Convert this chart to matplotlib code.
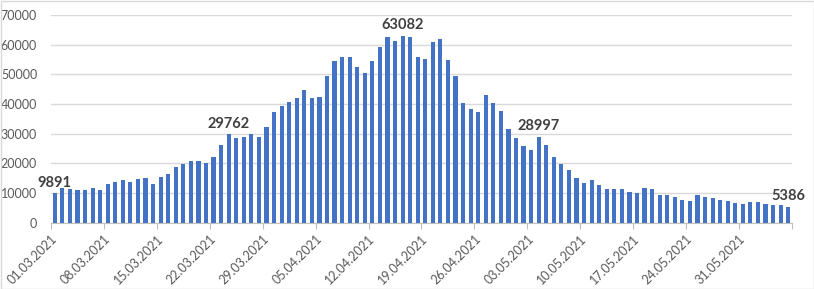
import numpy as np
import matplotlib.pyplot as plt
from matplotlib.patches import Rectangle
import datetime as dt

# daily values 01.03.2021 .. 06.06.2021
values = [9891, 11700, 11350, 11000, 11000, 11700, 11000,
          13000, 13700, 14400, 13700, 14700, 15050, 13000,
          15400, 16400, 18760, 19800, 20800, 20800, 20100,
          22100, 26200, 29762, 28500, 28900, 29900, 28900,
          32250, 37300, 39300, 40700, 42000, 44700, 42000,
          42360, 49400, 54500, 55800, 55800, 52500, 50450,
          54500, 59200, 62600, 61200, 63082, 62600, 55800,
          55200, 60900, 61900, 54800, 49400, 40300, 38300,
          37300, 43000, 40300, 37600, 31600, 28500, 25800,
          24500, 28997, 26200, 22100, 19800, 17750, 15050,
          13370, 14400, 12700, 11350, 11350, 11350, 10340,
          10000, 11700, 11350, 9330, 9330, 8650, 7640,
          7300, 9330, 8650, 8300, 7640, 7300, 6630,
          6300, 6970, 6970, 6300, 5960, 5960, 5386]
start = dt.date(2021, 3, 1)
dates = [start + dt.timedelta(days=i) for i in range(len(values))]
labelled = [0, 23, 46, 64, 97]

fig = plt.figure(figsize=(8.14, 2.89), dpi=100)
plt.rcParams['font.family'] = ['Lato', 'DejaVu Sans']
ax = fig.add_axes([51/814, 66.3/289, (792-51)/814, (222.7-15)/289])

x = np.arange(len(values))
ax.bar(x, values, width=0.55, color='#4472C4', zorder=3)

ax.set_xlim(-0.5, len(values) - 0.5)
ax.set_ylim(0, 70000)
ax.set_yticks(np.arange(0, 70001, 10000))
ax.set_yticklabels([str(v) for v in range(0, 70001, 10000)], fontsize=9, color='#595959')
ax.yaxis.grid(True, color='#d9d9d9', linewidth=1, zorder=0)
ax.tick_params(axis='y', length=0, pad=10)

tick_pos = np.arange(-0.5, len(values), 7)
ax.set_xticks(tick_pos)
tick_labels = [dates[int(p + 0.5)].strftime('%d.%m.%Y') if p + 0.5 < len(values) else '' for p in tick_pos]
ax.set_xticklabels(tick_labels, rotation=45, ha='right', rotation_mode='anchor',
                   fontsize=9, color='#595959')
ax.tick_params(axis='x', length=4, color='#bfbfbf', pad=3)

for s in ['top', 'right', 'left']:
    ax.spines[s].set_visible(False)
ax.spines['bottom'].set_color('#bfbfbf')

for i in labelled:
    ax.text(x[i], values[i] + 1200, str(values[i]), ha='center', va='bottom',
            fontsize=10.5, fontweight='bold', color='#404040', zorder=4)

fig.patches.append(Rectangle((0.5/814, 0.5/289), 1 - 1/814, 1 - 1/289, transform=fig.transFigure,
                             fill=False, edgecolor='#d9d9d9', linewidth=1))

fig.savefig('out.png', dpi=100)
